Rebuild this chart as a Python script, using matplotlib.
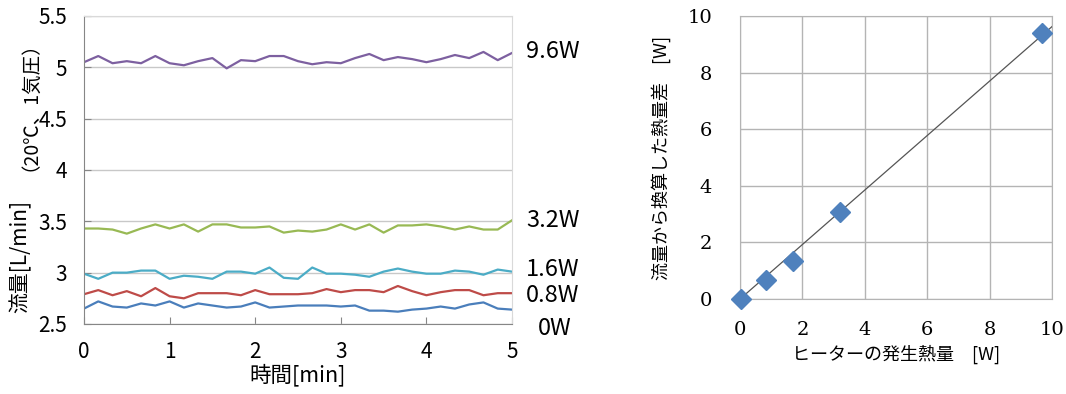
import numpy as np
import matplotlib.pyplot as plt
import matplotlib.transforms as mtransforms
from matplotlib import font_manager

plt.rcParams['font.family'] = ['Noto Sans CJK JP', 'DejaVu Sans']

# flow rate time series, one sample every 10 s
time_min = np.arange(31) / 6.0
flow_0w = [2.65, 2.72, 2.67, 2.66, 2.70, 2.68, 2.72, 2.66, 2.70, 2.68, 2.66,
           2.67, 2.71, 2.66, 2.67, 2.68, 2.68, 2.68, 2.67, 2.68, 2.63, 2.63,
           2.62, 2.64, 2.65, 2.67, 2.65, 2.69, 2.71, 2.65, 2.64]
flow_08w = [2.79, 2.83, 2.78, 2.82, 2.77, 2.85, 2.77, 2.75, 2.80, 2.80, 2.80,
            2.78, 2.83, 2.79, 2.79, 2.79, 2.80, 2.84, 2.81, 2.83, 2.83, 2.81,
            2.87, 2.82, 2.78, 2.81, 2.83, 2.83, 2.78, 2.80, 2.80]
flow_16w = [2.99, 2.94, 3.00, 3.00, 3.02, 3.02, 2.94, 2.97, 2.96, 2.94, 3.01,
            3.01, 2.99, 3.05, 2.95, 2.94, 3.05, 2.99, 2.99, 2.98, 2.96, 3.01,
            3.04, 3.01, 2.99, 2.99, 3.02, 3.01, 2.98, 3.03, 3.01]
flow_32w = [3.43, 3.43, 3.42, 3.38, 3.43, 3.47, 3.43, 3.47, 3.40, 3.47, 3.47,
            3.44, 3.44, 3.45, 3.39, 3.41, 3.40, 3.42, 3.47, 3.42, 3.47, 3.39,
            3.46, 3.46, 3.47, 3.45, 3.42, 3.45, 3.42, 3.42, 3.51]
flow_96w = [5.05, 5.11, 5.04, 5.06, 5.04, 5.11, 5.04, 5.02, 5.06, 5.09, 4.99,
            5.07, 5.06, 5.11, 5.11, 5.06, 5.03, 5.05, 5.04, 5.09, 5.13, 5.07,
            5.10, 5.08, 5.05, 5.08, 5.12, 5.09, 5.15, 5.07, 5.14]
series_labels = ['0W', '0.8W', '1.6W', '3.2W', '9.6W']
series_colors = ['#4a7ebb', '#be4b48', '#4bacc6', '#98b954', '#7d60a0']
label_y = [2.46, 2.78, 3.03, 3.51, 5.15]
label_x = [1.06, 1.033, 1.033, 1.033, 1.033]
y_ticks = [2.5, 3, 3.5, 4, 4.5, 5, 5.5]

# heater power vs. heat computed from flow difference
heater_w = [0.02, 0.82, 1.69, 3.22, 9.69]
flow_heat_w = [0.0, 0.67, 1.35, 3.06, 9.40]
w_ticks = [0, 2, 4, 6, 8, 10]

fig = plt.figure(figsize=(10.66, 3.94), dpi=100)

# ---- left: flow rate over time ----
ax = fig.add_axes([0.0788, 0.1777, 0.4015, 0.7817])
for ys, c in zip([flow_0w, flow_08w, flow_16w, flow_32w, flow_96w], series_colors):
    ax.plot(time_min, ys, color=c, lw=1.6)
ax.set_xlim(0, 5)
ax.set_ylim(2.5, 5.5)
ax.set_xticks(range(6))
ax.set_yticks(y_ticks, labels=[f'{v:g}' for v in y_ticks])
ax.grid(axis='y', color='#c8c8c8', lw=1)
ax.set_axisbelow(True)
for s in ['left', 'bottom']:
    ax.spines[s].set_color('#868686')
for s in ['top', 'right']:
    ax.spines[s].set_color('#d9d9d9')
ax.tick_params(axis='both', direction='in', length=5, color='#868686',
               labelsize=15, pad=12)
ax.tick_params(axis='y', pad=12)
ax.set_xlabel('時間[min]', fontsize=15.5, labelpad=1)

trans = mtransforms.blended_transform_factory(ax.transAxes, ax.transData)
for lx, ly, lab in zip(label_x, label_y, series_labels):
    ax.text(lx, ly, lab, transform=trans, fontsize=17, va='center', ha='left')

fig.text(0.019, 0.205, '流量[L/min]', rotation=90, fontsize=15,
         ha='center', va='bottom')
fig.text(0.019, 0.565, '（20℃、1気圧）', rotation=90, fontsize=14,
         ha='center', va='bottom')

# ---- right: heater output vs. converted heat ----
ax2 = fig.add_axes([0.6942, 0.2411, 0.2927, 0.7183])
slope = np.dot(heater_w, flow_heat_w) / np.dot(heater_w, heater_w)
fit_x = np.array([heater_w[0], 10])
ax2.plot(fit_x, slope * fit_x, color='#555555', lw=0.9, zorder=3)
ax2.plot(heater_w, flow_heat_w, linestyle='none', marker='D', markersize=10.5,
         color='#4f81bd', markeredgecolor='#4f81bd', zorder=4, clip_on=False)
ax2.set_xlim(0, 10)
ax2.set_ylim(0, 10)
serif = font_manager.FontProperties(family=['DejaVu Serif', 'Liberation Serif'],
                                    size=14)
ax2.set_xticks(w_ticks, labels=[str(v) for v in w_ticks], fontproperties=serif)
ax2.set_yticks(w_ticks, labels=[str(v) for v in w_ticks], fontproperties=serif)
ax2.grid(color='#b4b4b4', lw=1)
ax2.set_axisbelow(True)
for s in ax2.spines.values():
    s.set_color('#b4b4b4')
ax2.tick_params(axis='x', length=0, pad=16)
ax2.tick_params(axis='y', length=0, pad=20)
ax2.set_xlabel('ヒーターの発生熱量\u3000[W]', fontsize=13, labelpad=4)
ax2.set_ylabel('流量から換算した熱量差\u3000[W]', fontsize=13, labelpad=12)

fig.savefig('out.png', dpi=100)
